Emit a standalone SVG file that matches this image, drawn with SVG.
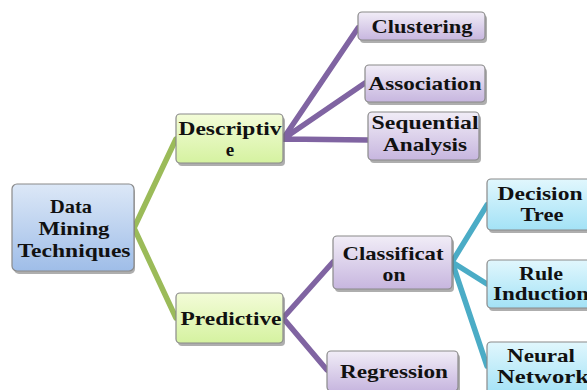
<svg xmlns="http://www.w3.org/2000/svg" width="587" height="390" viewBox="0 0 587 390">
<defs>
<linearGradient id="gBlue" x1="0" y1="0" x2="0" y2="1"><stop offset="0" stop-color="#dce8f7"/><stop offset="1" stop-color="#9fbde8"/></linearGradient>
<linearGradient id="gGreen" x1="0" y1="0" x2="0" y2="1"><stop offset="0" stop-color="#f3fcd8"/><stop offset="1" stop-color="#d5f2a0"/></linearGradient>
<linearGradient id="gPurple" x1="0" y1="0" x2="0" y2="1"><stop offset="0" stop-color="#f1edf7"/><stop offset="1" stop-color="#c7b6df"/></linearGradient>
<linearGradient id="gTeal" x1="0" y1="0" x2="0" y2="1"><stop offset="0" stop-color="#e1f7fd"/><stop offset="1" stop-color="#a3e2f6"/></linearGradient>
</defs>
<style>
.box{stroke:#8a8a8a;stroke-width:1.2}
.sh{fill:#6b6b6b;opacity:0.55}
.t{font-family:"Liberation Serif","DejaVu Serif",serif;font-weight:bold;font-size:19px;fill:#111;text-anchor:middle}
.c{fill:none;stroke-width:5.5;stroke-linecap:round;stroke-linejoin:round}
.cg{stroke:#9bbb59}.cp{stroke:#8064a2}.ct{stroke:#4bacc6}
</style>
<rect width="587" height="390" fill="#fff"/>
<g id="connectors">
<polyline class="c cg" points="176,139 134,228 176,318"/>
<path class="c cp" d="M283,139 L358,28 M283,139 L365,83 M283,139 L368,140"/>
<path class="c cp" d="M283,318 L333,262 M283,318 L327,370"/>
<path class="c ct" d="M452,262 L487,205 M452,262 L487,284 M452,262 L487,366"/>
</g>
<g id="root">
<rect class="sh" x="14" y="187" width="121" height="87" rx="5"/>
<rect class="box" x="12" y="184" width="122" height="87" rx="5" fill="url(#gBlue)"/>
<text class="t" x="71" y="213" textLength="42" lengthAdjust="spacingAndGlyphs">Data</text>
<text class="t" x="74" y="235" textLength="71" lengthAdjust="spacingAndGlyphs">Mining</text>
<text class="t" x="74" y="257" textLength="113" lengthAdjust="spacingAndGlyphs">Techniques</text>
</g>
<g id="descriptive">
<rect class="sh" x="178" y="117" width="107" height="49" rx="4"/>
<rect class="box" x="176" y="114" width="107" height="49" rx="4" fill="url(#gGreen)"/>
<text class="t" x="230" y="135" textLength="103" lengthAdjust="spacingAndGlyphs">Descriptiv</text>
<text class="t" x="230" y="156">e</text>
</g>
<g id="predictive">
<rect class="sh" x="178" y="296" width="107" height="50" rx="4"/>
<rect class="box" x="176" y="293" width="107" height="50" rx="4" fill="url(#gGreen)"/>
<text class="t" x="231" y="325" textLength="101" lengthAdjust="spacingAndGlyphs">Predictive</text>
</g>
<g id="clustering">
<rect class="sh" x="360" y="15" width="127" height="28" rx="4"/>
<rect class="box" x="358" y="12" width="127" height="28" rx="4" fill="url(#gPurple)"/>
<text class="t" x="422" y="33" textLength="101" lengthAdjust="spacingAndGlyphs">Clustering</text>
</g>
<g id="association">
<rect class="sh" x="367" y="68" width="120" height="37" rx="4"/>
<rect class="box" x="365" y="65" width="120" height="37" rx="4" fill="url(#gPurple)"/>
<text class="t" x="425" y="90" textLength="113" lengthAdjust="spacingAndGlyphs">Association</text>
</g>
<g id="sequential">
<rect class="sh" x="370" y="115" width="111" height="48" rx="4"/>
<rect class="box" x="368" y="112" width="111" height="48" rx="4" fill="url(#gPurple)"/>
<text class="t" x="425" y="129" textLength="107" lengthAdjust="spacingAndGlyphs">Sequential</text>
<text class="t" x="425" y="151" textLength="84" lengthAdjust="spacingAndGlyphs">Analysis</text>
</g>
<g id="classification">
<rect class="sh" x="335" y="239" width="119" height="53" rx="4"/>
<rect class="box" x="333" y="236" width="119" height="53" rx="4" fill="url(#gPurple)"/>
<text class="t" x="393" y="260" textLength="101" lengthAdjust="spacingAndGlyphs">Classificat</text>
<text class="t" x="394" y="281" textLength="23" lengthAdjust="spacingAndGlyphs">on</text>
</g>
<g id="regression">
<rect class="sh" x="329" y="354" width="131" height="40" rx="4"/>
<rect class="box" x="327" y="351" width="131" height="40" rx="4" fill="url(#gPurple)"/>
<text class="t" x="394" y="378" textLength="108" lengthAdjust="spacingAndGlyphs">Regression</text>
</g>
<g id="decision">
<rect class="sh" x="489" y="182" width="110" height="51" rx="4"/>
<rect class="box" x="487" y="179" width="110" height="51" rx="4" fill="url(#gTeal)"/>
<text class="t" x="540" y="200" textLength="85" lengthAdjust="spacingAndGlyphs">Decision</text>
<text class="t" x="542" y="221" textLength="43" lengthAdjust="spacingAndGlyphs">Tree</text>
</g>
<g id="rule">
<rect class="sh" x="489" y="263" width="110" height="48" rx="4"/>
<rect class="box" x="487" y="260" width="110" height="48" rx="4" fill="url(#gTeal)"/>
<text class="t" x="541" y="280" textLength="44" lengthAdjust="spacingAndGlyphs">Rule</text>
<text class="t" x="541" y="300" textLength="96" lengthAdjust="spacingAndGlyphs">Induction</text>
</g>
<g id="neural">
<rect class="sh" x="489" y="345" width="110" height="52" rx="4"/>
<rect class="box" x="487" y="342" width="110" height="52" rx="4" fill="url(#gTeal)"/>
<text class="t" x="541" y="362" textLength="68" lengthAdjust="spacingAndGlyphs">Neural</text>
<text class="t" x="543" y="383" textLength="92" lengthAdjust="spacingAndGlyphs">Network</text>
</g>
</svg>
